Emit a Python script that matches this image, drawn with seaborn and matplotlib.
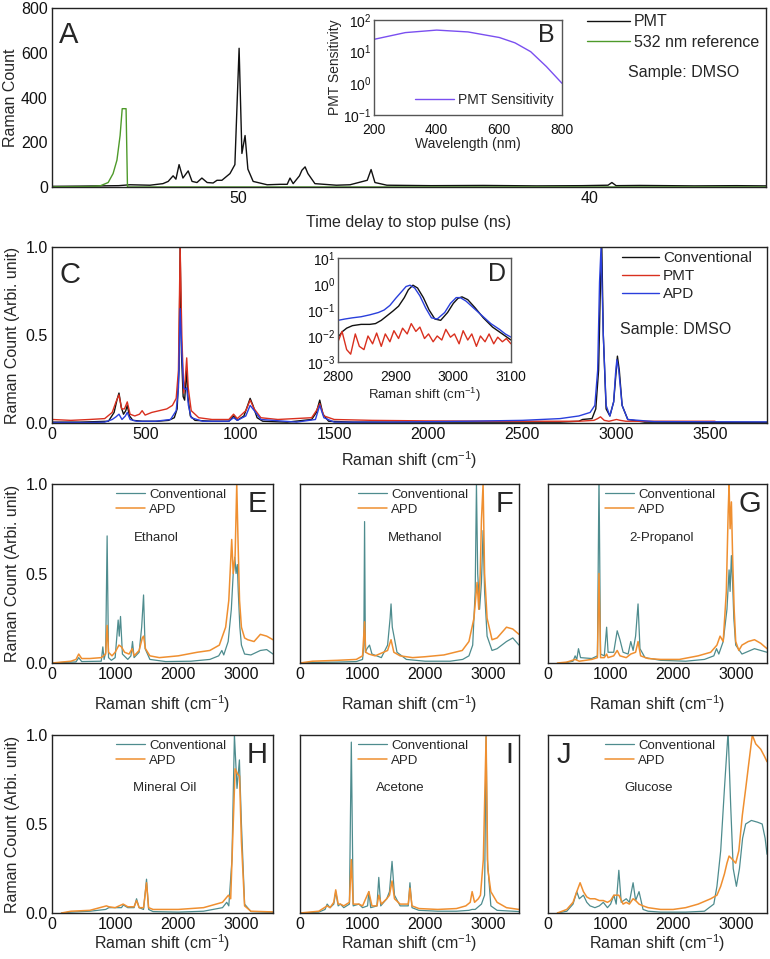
import matplotlib
matplotlib.use("Agg")
import matplotlib.pyplot as plt
import seaborn as sns
from matplotlib.ticker import FormatStrFormatter, LogLocator, NullLocator

sns.set_theme(style="white")
plt.rcParams["font.family"] = ["Liberation Sans", "DejaVu Sans"]
plt.rcParams["mathtext.default"] = "regular"

# ---- panel A: time-delay trace (ns axis runs backwards) ----
a_pmt_ns = [55.30, 54.5, 53.93, 53.4, 53.08, 52.51, 52.14, 51.99, 51.85, 51.77, 51.68, 51.57,
            51.42, 51.31, 51.17, 51.03, 50.88, 50.71, 50.60, 50.46, 50.23, 50.09, 49.97, 49.89,
            49.80, 49.72, 49.57, 49.17, 48.80, 48.60, 48.52, 48.43, 48.25, 48.18, 48.09, 48.01,
            47.81, 47.2, 46.81, 46.32, 46.21, 46.10, 45.76, 44.5, 43.0, 41.5, 40.2, 39.46,
            39.35, 39.23, 38.55, 37.0, 35.8, 34.96]
a_pmt_cnt = [3, 4, 5, 6, 10, 8, 15, 25, 50, 35, 100, 40, 72, 25, 20, 40, 20, 18, 30, 30, 60, 100,
             620, 150, 230, 80, 25, 10, 12, 12, 40, 15, 50, 75, 90, 60, 15, 8, 10, 30, 78, 20, 8,
             6, 7, 5, 6, 8, 20, 6, 7, 5, 6, 5]
a_ref_ns = [55.30, 54.2, 53.93, 53.7, 53.56, 53.45, 53.36, 53.30, 53.19, 53.15, 50.0, 34.96]
a_ref_cnt = [1, 2, 5, 20, 60, 120, 230, 350, 350, 0, 0, 0]

# ---- panel B: PMT sensitivity ----
b_wl = [200, 300, 400, 500, 600, 650, 700, 750, 800]
b_sens = [24.5, 40, 48, 42, 28, 19, 10, 3.4, 1.0]

# ---- panel C: DMSO spectra ----
c_conv_x = [0, 150, 300, 330, 345, 356, 368, 380, 392, 400, 412, 430, 480, 560, 620, 650, 665,
            675, 681, 688, 697, 705, 712, 716, 722, 735, 760, 850, 940, 965, 985, 1020, 1040,
            1053, 1068, 1090, 1120, 1250, 1380, 1405, 1423, 1440, 1470, 1600, 2000, 2400, 2700,
            2800, 2820, 2870, 2890, 2905, 2915, 2922, 2930, 2945, 2965, 2985, 2995, 3005, 3015,
            3030, 3060, 3150, 3500, 3800]
c_conv_y = [0.005, 0.005, 0.01, 0.06, 0.13, 0.17, 0.09, 0.05, 0.07, 0.1, 0.04, 0.015, 0.01,
            0.01, 0.015, 0.03, 0.08, 0.3, 1.0, 0.4, 0.15, 0.13, 0.25, 0.3, 0.15, 0.04, 0.015,
            0.01, 0.01, 0.04, 0.015, 0.04, 0.1, 0.14, 0.1, 0.03, 0.01, 0.005, 0.02, 0.06, 0.13,
            0.05, 0.01, 0.005, 0.005, 0.005, 0.005, 0.01, 0.02, 0.025, 0.08, 0.3, 0.8, 1.0, 0.5,
            0.08, 0.04, 0.12, 0.25, 0.38, 0.3, 0.1, 0.02, 0.005, 0.004, 0.004]
c_pmt_x = [0, 100, 200, 280, 320, 340, 356, 370, 385, 400, 415, 440, 465, 479, 495, 530, 570,
           610, 640, 660, 672, 681, 690, 700, 708, 716, 724, 740, 780, 850, 940, 965, 985, 1030,
           1053, 1075, 1110, 1200, 1380, 1405, 1423, 1445, 1500, 1700, 2000, 2400, 2800, 2880,
           2900, 2915, 2935, 2960, 3000, 3020, 3050, 3200, 3400, 3524]
c_pmt_y = [0.02, 0.015, 0.02, 0.025, 0.06, 0.12, 0.16, 0.08, 0.08, 0.12, 0.05, 0.04, 0.05,
           0.07, 0.045, 0.06, 0.07, 0.08, 0.1, 0.14, 0.3, 1.0, 0.5, 0.17, 0.25, 0.37, 0.2, 0.07,
           0.03, 0.02, 0.02, 0.05, 0.025, 0.07, 0.13, 0.08, 0.03, 0.02, 0.03, 0.07, 0.11, 0.04,
           0.02, 0.015, 0.012, 0.01, 0.01, 0.015, 0.025, 0.035, 0.015, 0.01, 0.02, 0.015, 0.01,
           0.01, 0.01, 0.01]
c_apd_x = [0, 200, 280, 320, 340, 356, 372, 390, 400, 415, 450, 550, 630, 660, 672, 681, 690,
           700, 710, 716, 725, 740, 800, 940, 965, 985, 1030, 1053, 1075, 1110, 1300, 1400, 1423,
           1445, 1500, 1800, 2200, 2500, 2700, 2800, 2860, 2885, 2900, 2910, 2918, 2930, 2945,
           2965, 2985, 2995, 3002, 3012, 3030, 3060, 3200, 3800]
c_apd_y = [0.003, 0.003, 0.005, 0.02, 0.035, 0.05, 0.02, 0.04, 0.06, 0.02, 0.01, 0.01, 0.02,
           0.07, 0.2, 0.65, 0.4, 0.2, 0.19, 0.2, 0.1, 0.03, 0.01, 0.01, 0.03, 0.015, 0.04, 0.1,
           0.07, 0.02, 0.005, 0.02, 0.1, 0.03, 0.005, 0.005, 0.01, 0.015, 0.025, 0.04, 0.06, 0.1,
           0.3, 0.8, 1.0, 0.5, 0.1, 0.04, 0.12, 0.28, 0.36, 0.3, 0.1, 0.02, 0.008, 0.006]

# ---- panel D: C-H stretch region, log scale ----
d_conv_x = [2800, 2808, 2815, 2825, 2840, 2855, 2865, 2875, 2885, 2895, 2905, 2915, 2922, 2930,
            2938, 2948, 2958, 2968, 2978, 2990, 3000, 3008, 3015, 3025, 3038, 3052, 3068, 3085,
            3100]
d_conv_y = [0.009, 0.015, 0.02, 0.025, 0.028, 0.028, 0.03, 0.04, 0.06, 0.09, 0.14, 0.3, 0.6,
            0.9, 0.7, 0.3, 0.1, 0.045, 0.04, 0.08, 0.18, 0.28, 0.32, 0.25, 0.12, 0.05, 0.022,
            0.012, 0.007]
d_pmt_x = [2800, 2807, 2815, 2822, 2830, 2837, 2845, 2852, 2860, 2867, 2875, 2882, 2890, 2897,
           2905, 2912, 2920, 2927, 2935, 2942, 2950, 2957, 2965, 2972, 2980, 2987, 2995, 3002,
           3010, 3017, 3025, 3032, 3040, 3047, 3055, 3062, 3070, 3077, 3085, 3092, 3100]
d_pmt_y = [0.006, 0.015, 0.003, 0.002, 0.012, 0.004, 0.003, 0.01, 0.005, 0.013, 0.004, 0.012,
           0.006, 0.016, 0.008, 0.02, 0.012, 0.03, 0.015, 0.022, 0.008, 0.012, 0.006, 0.01,
           0.007, 0.018, 0.009, 0.012, 0.005, 0.016, 0.007, 0.012, 0.004, 0.01, 0.006, 0.012,
           0.005, 0.009, 0.006, 0.008, 0.005]
d_apd_x = [2800, 2812, 2825, 2840, 2855, 2870, 2880, 2890, 2900, 2910, 2918, 2925, 2933, 2942,
           2952, 2962, 2972, 2985, 2995, 3005, 3012, 3022, 3035, 3050, 3065, 3080, 3090, 3100]
d_apd_y = [0.04, 0.045, 0.05, 0.055, 0.065, 0.08, 0.1, 0.15, 0.28, 0.5, 0.8, 0.9, 0.7, 0.35,
           0.12, 0.05, 0.045, 0.08, 0.18, 0.3, 0.3, 0.22, 0.12, 0.06, 0.03, 0.018, 0.012, 0.009]

# ---- panels E-J: other samples ----
samples = ["Ethanol", "Methanol", "2-Propanol", "Mineral Oil", "Acetone", "Glucose"]
letters = ["E", "F", "G", "H", "I", "J"]

eth_conv_x = [0, 150, 380, 423, 470, 780, 805, 825, 850, 873, 895, 940, 1000, 1048, 1065, 1085,
              1115, 1200, 1250, 1275, 1300, 1380, 1420, 1450, 1475, 1550, 1800, 2200, 2500, 2640,
              2690, 2720, 2790, 2840, 2870, 2895, 2915, 2935, 2950, 2975, 3000, 3050, 3150, 3300,
              3400, 3500]
eth_conv_y = [0.0, 0.003, 0.006, 0.03, 0.008, 0.01, 0.09, 0.02, 0.06, 0.71, 0.03, 0.015, 0.03,
              0.24, 0.15, 0.26, 0.05, 0.02, 0.04, 0.12, 0.03, 0.06, 0.2, 0.38, 0.08, 0.02, 0.008,
              0.01, 0.02, 0.04, 0.07, 0.045, 0.12, 0.3, 0.5, 0.59, 0.5, 0.55, 0.4, 0.2, 0.1, 0.05,
              0.045, 0.07, 0.075, 0.05]
eth_apd_x = [0, 150, 300, 380, 423, 470, 600, 780, 850, 873, 895, 950, 1000, 1060, 1100, 1150,
             1220, 1270, 1300, 1380, 1430, 1450, 1480, 1550, 1700, 2000, 2300, 2500, 2650, 2750,
             2800, 2846, 2870, 2900, 2926, 2945, 2970, 3000, 3050, 3100, 3200, 3300, 3400, 3500]
eth_apd_y = [0.0, 0.005, 0.01, 0.02, 0.05, 0.025, 0.025, 0.03, 0.05, 0.21, 0.06, 0.04, 0.06,
             0.1, 0.09, 0.06, 0.05, 0.08, 0.04, 0.07, 0.14, 0.15, 0.08, 0.04, 0.03, 0.04, 0.06,
             0.07, 0.1, 0.2, 0.35, 0.69, 0.5, 0.6, 1.0, 0.7, 0.35, 0.2, 0.14, 0.13, 0.12, 0.16,
             0.15, 0.13]

meth_conv_x = [0, 200, 600, 900, 1000, 1020, 1032, 1045, 1070, 1111, 1150, 1300, 1400, 1440,
               1455, 1475, 1550, 1700, 2000, 2400, 2600, 2700, 2760, 2800, 2820, 2840, 2870,
               2900, 2926, 2950, 2990, 3069, 3150, 3300, 3400, 3500]
meth_conv_y = [0.0, 0.003, 0.005, 0.008, 0.02, 0.1, 0.79, 0.06, 0.08, 0.1, 0.05, 0.03, 0.1,
               0.25, 0.33, 0.2, 0.06, 0.02, 0.01, 0.01, 0.02, 0.04, 0.1, 0.4, 1.0, 0.5, 0.3, 0.45,
               0.74, 0.4, 0.15, 0.07, 0.08, 0.12, 0.14, 0.1]
meth_apd_x = [0, 200, 600, 900, 1000, 1032, 1050, 1100, 1200, 1400, 1455, 1500, 1600, 1800,
              2000, 2300, 2593, 2700, 2780, 2830, 2857, 2880, 2900, 2926, 2950, 2990, 3069, 3150,
              3300, 3400, 3500]
meth_apd_y = [0.0, 0.01, 0.015, 0.02, 0.04, 0.23, 0.06, 0.05, 0.04, 0.07, 0.13, 0.06, 0.04,
              0.03, 0.035, 0.045, 0.07, 0.12, 0.25, 0.45, 0.3, 0.5, 0.8, 1.0, 0.5, 0.25, 0.13,
              0.14, 0.2, 0.19, 0.16]

prop_conv_x = [250, 400, 434, 460, 487, 520, 700, 790, 815, 840, 900, 937, 960, 1050, 1106,
               1150, 1200, 1280, 1323, 1360, 1400, 1439, 1470, 1550, 1800, 2200, 2500, 2650,
               2693, 2730, 2800, 2860, 2894, 2910, 2931, 2950, 2970, 3000, 3100, 3300, 3500]
prop_conv_y = [0.0, 0.01, 0.04, 0.02, 0.08, 0.03, 0.025, 0.04, 1.05, 0.05, 0.04, 0.2, 0.06,
               0.06, 0.18, 0.13, 0.06, 0.05, 0.12, 0.07, 0.15, 0.33, 0.08, 0.03, 0.015, 0.01,
               0.02, 0.04, 0.08, 0.05, 0.12, 0.3, 0.52, 0.4, 0.6, 0.45, 0.25, 0.1, 0.05, 0.08,
               0.06]
prop_apd_x = [150, 300, 434, 500, 700, 790, 815, 840, 900, 937, 960, 1050, 1106, 1150, 1250,
              1323, 1400, 1439, 1480, 1600, 1800, 2100, 2400, 2600, 2700, 2750, 2800, 2850,
              2880, 2894, 2910, 2931, 2950, 2975, 3000, 3050, 3100, 3200, 3300, 3400, 3500]
prop_apd_y = [0.0, 0.005, 0.02, 0.01, 0.02, 0.03, 0.5, 0.03, 0.03, 0.05, 0.03, 0.04, 0.07,
              0.04, 0.03, 0.05, 0.06, 0.12, 0.04, 0.025, 0.02, 0.02, 0.04, 0.06, 0.1, 0.15, 0.12,
              0.4, 0.85, 1.0, 0.75, 0.9, 0.6, 0.3, 0.12, 0.07, 0.1, 0.12, 0.13, 0.11, 0.08]

oil_conv_x = [150, 300, 600, 850, 900, 1100, 1130, 1200, 1300, 1339, 1380, 1450, 1497, 1530,
              1600, 2000, 2400, 2700, 2767, 2800, 2850, 2889, 2930, 2968, 3000, 3050, 3150, 3500]
oil_conv_y = [0.0, 0.005, 0.01, 0.02, 0.03, 0.03, 0.045, 0.03, 0.03, 0.08, 0.03, 0.02, 0.19,
              0.02, 0.008, 0.005, 0.01, 0.03, 0.06, 0.04, 0.3, 1.0, 0.7, 0.86, 0.5, 0.05, 0.008,
              0.004]
oil_apd_x = [150, 300, 600, 862, 900, 1000, 1127, 1200, 1300, 1339, 1380, 1450, 1497, 1530,
             1600, 2000, 2400, 2700, 2794, 2830, 2870, 2900, 2940, 2970, 3000, 3050, 3150, 3500]
oil_apd_y = [0.0, 0.01, 0.015, 0.04, 0.035, 0.03, 0.05, 0.035, 0.035, 0.07, 0.03, 0.03, 0.17,
             0.03, 0.02, 0.02, 0.03, 0.06, 0.1, 0.08, 0.5, 0.81, 0.78, 0.77, 0.4, 0.04, 0.01,
             0.006]

acet_conv_x = [0, 300, 400, 434, 480, 540, 571, 610, 645, 700, 790, 820, 850, 942, 1000, 1080,
               1100, 1130, 1230, 1259, 1290, 1386, 1430, 1471, 1510, 1600, 1730, 1757, 1790,
               1900, 2200, 2500, 2700, 2751, 2800, 2900, 2950, 2974, 2995, 3050, 3150, 3500]
acet_conv_y = [0.0, 0.005, 0.02, 0.05, 0.03, 0.05, 0.12, 0.04, 0.05, 0.03, 0.05, 0.96, 0.04,
               0.05, 0.03, 0.04, 0.12, 0.03, 0.04, 0.2, 0.04, 0.08, 0.12, 0.29, 0.1, 0.04, 0.04,
               0.17, 0.03, 0.015, 0.01, 0.01, 0.015, 0.02, 0.02, 0.05, 0.1, 1.0, 0.3, 0.04,
               0.015, 0.008]
acet_apd_x = [0, 300, 434, 480, 540, 571, 610, 645, 700, 790, 820, 850, 942, 1000, 1100, 1150,
              1230, 1259, 1300, 1386, 1430, 1471, 1510, 1600, 1730, 1757, 1790, 1900, 2200,
              2500, 2650, 2720, 2751, 2790, 2850, 2884, 2930, 2974, 3000, 3050, 3150, 3300, 3500]
acet_apd_y = [0.0, 0.01, 0.04, 0.03, 0.06, 0.13, 0.05, 0.05, 0.04, 0.06, 0.3, 0.05, 0.05, 0.04,
              0.12, 0.04, 0.04, 0.1, 0.05, 0.08, 0.1, 0.18, 0.08, 0.05, 0.05, 0.14, 0.04, 0.025,
              0.02, 0.025, 0.04, 0.06, 0.12, 0.06, 0.08, 0.1, 0.3, 0.99, 0.25, 0.12, 0.06, 0.03,
              0.02]

gluc_conv_x = [150, 300, 400, 460, 500, 566, 620, 672, 750, 820, 884, 950, 1000, 1053, 1090,
               1132, 1170, 1250, 1300, 1360, 1400, 1455, 1519, 1600, 1800, 2200, 2500, 2650,
               2700, 2760, 2820, 2878, 2920, 2960, 3011, 3060, 3110, 3159, 3250, 3350, 3423,
               3470, 3500]
gluc_conv_y = [0.0, 0.01, 0.05, 0.12, 0.08, 0.1, 0.06, 0.04, 0.03, 0.04, 0.06, 0.03, 0.05,
               0.1, 0.05, 0.24, 0.06, 0.08, 0.06, 0.17, 0.07, 0.12, 0.02, 0.01, 0.005, 0.005,
               0.01, 0.05, 0.15, 0.35, 0.7, 1.02, 0.6, 0.25, 0.15, 0.25, 0.42, 0.5, 0.52, 0.51,
               0.5, 0.42, 0.33]
gluc_apd_x = [150, 300, 400, 460, 513, 566, 620, 672, 750, 820, 884, 950, 1000, 1053, 1132,
              1200, 1250, 1300, 1360, 1400, 1455, 1519, 1600, 1800, 2000, 2200, 2400, 2600,
              2700, 2760, 2820, 2860, 2894, 2950, 3000, 3050, 3106, 3160, 3212, 3265, 3320,
              3400, 3460, 3500]
gluc_apd_y = [0.0, 0.02, 0.06, 0.12, 0.17, 0.12, 0.09, 0.08, 0.08, 0.07, 0.07, 0.06, 0.07,
              0.1, 0.1, 0.05, 0.06, 0.05, 0.08, 0.07, 0.05, 0.04, 0.03, 0.02, 0.02, 0.03, 0.05,
              0.08, 0.1, 0.15, 0.22, 0.28, 0.32, 0.3, 0.28, 0.35, 0.55, 0.7, 0.85, 1.0, 0.95,
              0.92, 0.88, 0.85]

small_conv = [(eth_conv_x, eth_conv_y), (meth_conv_x, meth_conv_y), (prop_conv_x, prop_conv_y),
              (oil_conv_x, oil_conv_y), (acet_conv_x, acet_conv_y), (gluc_conv_x, gluc_conv_y)]
small_apd = [(eth_apd_x, eth_apd_y), (meth_apd_x, meth_apd_y), (prop_apd_x, prop_apd_y),
             (oil_apd_x, oil_apd_y), (acet_apd_x, acet_apd_y), (gluc_apd_x, gluc_apd_y)]

# colours
BLACK = "#111111"
GREEN = "#4e9a2a"
PURPLE = "#7a4ff0"
RED = "#d9301f"
BLUE = "#2a3fdc"
TEAL = "#4e8c8e"
ORANGE = "#ef8f30"

W, H = 770, 959
fig = plt.figure(figsize=(W / 100, H / 100), dpi=100)


def px_axes(x0, y0, x1, y1):
    """Axes placed by pixel box (top-left origin)."""
    return fig.add_axes([x0 / W, 1 - y1 / H, (x1 - x0) / W, (y1 - y0) / H])


def style_axes(ax, spine_color="#222222", tick_size=11.5):
    for sp in ax.spines.values():
        sp.set_visible(True)
        sp.set_color(spine_color)
        sp.set_linewidth(1.0)
    ax.tick_params(length=0, pad=3, labelsize=tick_size, colors="#111111")


RAMAN_LABEL = "Raman shift (cm$^{-1}$)"
COUNT_LABEL = "Raman Count (Arbi. unit)"

# ---------- A ----------
axA = px_axes(52, 8, 766, 187)
sns.lineplot(x=a_pmt_ns, y=a_pmt_cnt, ax=axA, color=BLACK, lw=1.0, label="PMT")
sns.lineplot(x=a_ref_ns, y=a_ref_cnt, ax=axA, color=GREEN, lw=1.0, label="532 nm reference")
axA.set_xlim(55.3, 34.96)
axA.set_ylim(0, 800)
axA.set_xticks([50, 40])
axA.set_yticks([0, 200, 400, 600, 800])
axA.set_xlabel("Time delay to stop pulse (ns)", fontsize=11.5, labelpad=6)
axA.set_ylabel("Raman Count", fontsize=11.5, labelpad=2)
style_axes(axA)
axA.legend(loc="upper left", bbox_to_anchor=(0.749, 0.965), frameon=False, fontsize=11.5,
           borderpad=0, borderaxespad=0, handlelength=2.7, handletextpad=0.25,
           labelspacing=0.35)
axA.text(0.807, 0.64, "Sample: DMSO", transform=axA.transAxes, fontsize=11.5, va="center")
axA.text(0.01, 0.85, "A", transform=axA.transAxes, fontsize=21, va="center", ha="left")

# ---------- B (inset) ----------
axB = px_axes(374, 20, 562, 115)
sns.lineplot(x=b_wl, y=b_sens, ax=axB, color=PURPLE, lw=1.0, label="PMT Sensitivity")
axB.set_yscale("log")
axB.set_xlim(200, 800)
axB.set_ylim(0.1, 100)
axB.set_xticks([200, 400, 600, 800])
axB.yaxis.set_major_locator(LogLocator(base=10, numticks=5))
axB.yaxis.set_minor_locator(NullLocator())
axB.set_xlabel("Wavelength (nm)", fontsize=10, labelpad=0)
axB.set_ylabel("PMT Sensitivity", fontsize=10, labelpad=1)
style_axes(axB, spine_color="#555555", tick_size=10)
axB.tick_params(axis="x", pad=6)
axB.tick_params(axis="y", pad=2)
axB.legend(loc="lower right", frameon=False, fontsize=10, borderaxespad=0.2,
           handlelength=2.8, handletextpad=0.3)
axB.text(0.96, 0.84, "B", transform=axB.transAxes, fontsize=18, va="center", ha="right")

# ---------- C ----------
axC = px_axes(52, 247, 767, 423)
sns.lineplot(x=c_conv_x, y=c_conv_y, ax=axC, color=BLACK, lw=1.0, label="Conventional")
sns.lineplot(x=c_pmt_x, y=c_pmt_y, ax=axC, color=RED, lw=1.0, label="PMT")
sns.lineplot(x=c_apd_x, y=c_apd_y, ax=axC, color=BLUE, lw=1.0, label="APD")
axC.set_xlim(0, 3800)
axC.set_ylim(0, 1.0)
axC.set_xticks([0, 500, 1000, 1500, 2000, 2500, 3000, 3500])
axC.set_yticks([0, 0.5, 1.0])
axC.yaxis.set_major_formatter(FormatStrFormatter("%.1f"))
axC.set_xlabel(RAMAN_LABEL, fontsize=11.5, labelpad=5)
axC.set_ylabel(COUNT_LABEL, fontsize=11.5, labelpad=4)
style_axes(axC)
axC.legend(loc="upper left", bbox_to_anchor=(0.797, 0.975), frameon=False, fontsize=11,
           borderpad=0, borderaxespad=0, handlelength=2.4, handletextpad=0.3,
           labelspacing=0.25)
axC.text(0.794, 0.53, "Sample: DMSO", transform=axC.transAxes, fontsize=11.5, va="center")
axC.text(0.01, 0.84, "C", transform=axC.transAxes, fontsize=21, va="center", ha="left")

# ---------- D (inset) ----------
axD = px_axes(338, 258, 511, 362)
sns.lineplot(x=d_conv_x, y=d_conv_y, ax=axD, color=BLACK, lw=1.0, legend=False)
sns.lineplot(x=d_pmt_x, y=d_pmt_y, ax=axD, color=RED, lw=1.0, legend=False)
sns.lineplot(x=d_apd_x, y=d_apd_y, ax=axD, color=BLUE, lw=1.0, legend=False)
axD.set_yscale("log")
axD.set_xlim(2800, 3100)
axD.set_ylim(1e-3, 10)
axD.set_xticks([2800, 2900, 3000, 3100])
axD.yaxis.set_major_locator(LogLocator(base=10, numticks=6))
axD.yaxis.set_minor_locator(NullLocator())
axD.set_xlabel(RAMAN_LABEL, fontsize=9.5, labelpad=1)
style_axes(axD, spine_color="#555555", tick_size=10)
axD.tick_params(axis="x", pad=6)
axD.tick_params(axis="y", pad=2)
axD.text(0.97, 0.85, "D", transform=axD.transAxes, fontsize=18, va="center", ha="right")

# ---------- E-J ----------
cols = [(52, 273), (300, 519), (548, 767)]
rows = [(484, 663), (735, 913)]
xlabel_pad = [8, 0]
legend_x = [0.29, 0.265, 0.26, 0.29, 0.265, 0.26]
name_x = [0.47, 0.525, 0.52, 0.51, 0.46, 0.46]

for i, (name, letter) in enumerate(zip(samples, letters)):
    r, c = divmod(i, 3)
    ax = px_axes(cols[c][0], rows[r][0], cols[c][1], rows[r][1])
    cx, cy = small_conv[i]
    ox, oy = small_apd[i]
    sns.lineplot(x=cx, y=cy, ax=ax, color=TEAL, lw=0.9, label="Conventional")
    sns.lineplot(x=ox, y=oy, ax=ax, color=ORANGE, lw=1.1, label="APD")
    ax.set_xlim(0, 3500)
    ax.set_ylim(0, 1.0)
    ax.set_xticks([0, 1000, 2000, 3000])
    ax.set_yticks([0, 0.5, 1.0])
    ax.yaxis.set_major_formatter(FormatStrFormatter("%.1f"))
    style_axes(ax, tick_size=11.5)
    ax.set_xlabel(RAMAN_LABEL, fontsize=11.5, labelpad=xlabel_pad[r])
    if c == 0:
        ax.set_ylabel(COUNT_LABEL, fontsize=11.5, labelpad=4)
    else:
        ax.set_ylabel("")
        ax.set_yticklabels([])
    ax.legend(loc="upper left", bbox_to_anchor=(legend_x[i], 0.975), frameon=False,
              fontsize=9.5, borderpad=0, borderaxespad=0, handlelength=2.2,
              handletextpad=0.3, labelspacing=0.2)
    ax.text(name_x[i], 0.70, name, transform=ax.transAxes, fontsize=9.5,
            ha="center", va="center")
    if letter == "J":
        ax.text(0.04, 0.89, letter, transform=ax.transAxes, fontsize=21, va="center",
                ha="left")
    else:
        ax.text(0.975, 0.89, letter, transform=ax.transAxes, fontsize=21, va="center",
                ha="right")

fig.savefig("out.png", dpi=100)
